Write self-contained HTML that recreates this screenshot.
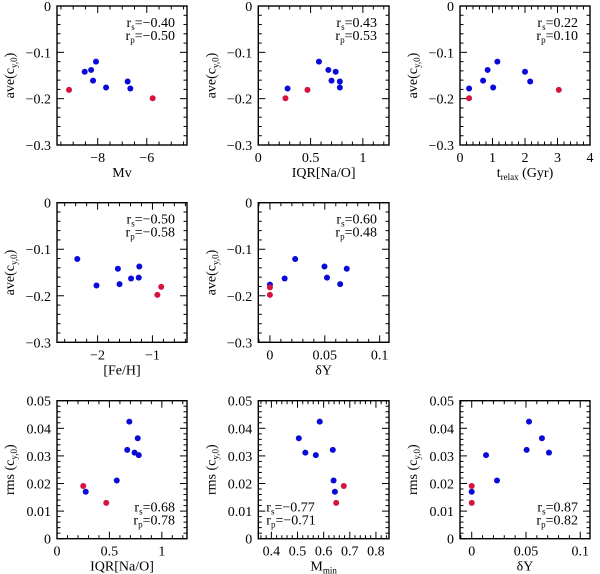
<!DOCTYPE html>
<html><head><meta charset="utf-8"><style>
html,body{margin:0;padding:0;background:#fff;}
svg{display:block;font-family:"Liberation Serif",serif;}
</style></head><body>
<svg id="fig" width="600" height="574" viewBox="0 0 600 574"></svg>
<script>
// ---- data ----
const aveMvBlue=[-8.53,-8.27,-8.07,-8.19,-7.66,-6.78,-6.67];
const aveBlueMv=[-0.142,-0.138,-0.120,-0.161,-0.176,-0.163,-0.178];
const aveMvRed=[-9.17,-5.76];
const aveRedMv=[-0.181,-0.199];
const aveIqrBlue=[0.28,0.58,0.67,0.74,0.70,0.78,0.78];
const aveBlueIqr=[-0.178,-0.120,-0.138,-0.142,-0.161,-0.163,-0.176];
const aveIqrRed=[0.26,0.47];
const aveRedIqr=[-0.199,-0.181];
const aveTrBlue=[0.28,0.71,0.85,1.02,1.15,2.0,2.16];
const aveBlueTr=[-0.178,-0.161,-0.138,-0.176,-0.120,-0.142,-0.163];
const aveTrRed=[0.28,3.04];
const aveRedTr=[-0.199,-0.181];
const aveFeBlue=[-2.37,-2.02,-1.63,-1.60,-1.39,-1.25,-1.24];
const aveBlueFe=[-0.121,-0.178,-0.142,-0.175,-0.163,-0.161,-0.137];
const aveFeRed=[-0.91,-0.84];
const aveRedFe=[-0.198,-0.181];
const aveDyBlue=[0,0.0134,0.023,0.0497,0.052,0.064,0.070];
const aveBlueDy=[-0.176,-0.163,-0.121,-0.137,-0.161,-0.175,-0.142];
const aveDyRed=[0,0];
const aveRedDy=[-0.182,-0.198];
const rmsIqrBlue=[0.274,0.57,0.67,0.69,0.74,0.78,0.77];
const rmsBlueIqr=[0.0170,0.0211,0.0322,0.0424,0.0312,0.0303,0.0364];
const rmsIqrRed=[0.25,0.47];
const rmsRedIqr=[0.0191,0.0130];
const rmsMmBlue=[0.505,0.53,0.57,0.585,0.635,0.638,0.643];
const rmsBlueMm=[0.0364,0.0312,0.0303,0.0424,0.0322,0.0211,0.0170];
const rmsMmRed=[0.677,0.648];
const rmsRedMm=[0.0191,0.0130];
const rmsDyBlue=[0,0.0132,0.0233,0.0506,0.0528,0.0647,0.0712];
const rmsBlueDy=[0.0170,0.0303,0.0211,0.0322,0.0424,0.0364,0.0312];
const rmsDyRed=[0,0];
const rmsRedDy=[0.0191,0.0130];
const aveTicks=["0","−0.1","−0.2","−0.3"];
const rmsTicks=["0","0.01","0.02","0.03","0.04","0.05"];

const NS="http://www.w3.org/2000/svg";
const svg=document.getElementById('fig');
function mk(tag,attrs,parent){const e=document.createElementNS(NS,tag);for(const k in attrs)e.setAttribute(k,attrs[k]);(parent||svg).appendChild(e);return e;}
function fmt(v){let s=(Math.abs(v)<1e-9?0:v).toString();return s.replace('-','−');}

function panel(o){
  const g=mk('g',{});
  
  
  const L=o.x0,R=o.x1,T=o.y0,B=o.y1;
  const sx=v=>L+(v-o.xr[0])/(o.xr[1]-o.xr[0])*(R-L);
  const sy=v=>B-(v-o.yr[0])/(o.yr[1]-o.yr[0])*(B-T);
  const frame=mk('rect',{x:L,y:T,width:R-L,height:B-T,fill:'none',stroke:'#000','stroke-width':1.4},g);
  
  
  const xs=Math.ceil((o.xr[0]-1e-9)/o.xmin);
  for(let i=xs;i*o.xmin<=o.xr[1]+1e-9;i++){
    const v=i*o.xmin;const X=sx(v);
    const maj=Math.abs(v/o.xmaj-Math.round(v/o.xmaj))<1e-6;
    const len=maj?7:3.5;
    mk('line',{x1:X,y1:B,x2:X,y2:B-len,stroke:'#000','stroke-width':1},g);
    mk('line',{x1:X,y1:T,x2:X,y2:T+len,stroke:'#000','stroke-width':1},g);
    if(maj&&o.xlab.some(l=>Math.abs(l-v)<1e-6)){
      const t=mk('text',{x:X,y:B+17,'font-size':14,'text-anchor':'middle'},g);t.textContent=fmt(+v.toFixed(4));
      
      
    }
  }
  const ys=Math.ceil((o.yr[0]-1e-9)/o.ymin);
  for(let i=ys;i*o.ymin<=o.yr[1]+1e-9;i++){
    const v=i*o.ymin;const Y=sy(v);
    const maj=Math.abs(v/o.ymaj-Math.round(v/o.ymaj))<1e-6;
    const len=maj?7:3.5;
    mk('line',{x1:L,y1:Y,x2:L+len,y2:Y,stroke:'#000','stroke-width':1},g);
    mk('line',{x1:R,y1:Y,x2:R-len,y2:Y,stroke:'#000','stroke-width':1},g);
    if(maj){
      const idx=Math.round(Math.abs(v)/o.ymaj);
      const t=mk('text',{x:L-6,y:Y+5,'font-size':14,'text-anchor':'end'},g);t.textContent=o.ytl[idx];
      
      
    }
  }
  const xt=mk('text',{x:(L+R)/2,y:B+32,'font-size':14,'text-anchor':'middle'},g);
  xt.innerHTML=o.xtitle;
  
  
  const cy=(T+B)/2;
  const yt=mk('text',{x:0,y:0,'font-size':14,'text-anchor':'middle',transform:`translate(${L-43},${cy}) rotate(-90)`},g);
  yt.innerHTML=o.ytitle;
  
  
  for(let i=0;i<o.bx.length;i++){
    const c=mk('circle',{cx:sx(o.bx[i]),cy:sy(o.by[i]),r:3,fill:'#0a0ad8'},g);
    
    
  }
  for(let i=0;i<o.rx.length;i++){
    const c=mk('circle',{cx:sx(o.rx[i]),cy:sy(o.ry[i]),r:3,fill:'#d4143c'},g);
    
    
  }
  const ax=o.annLeft?L+8:R-12, anc=o.annLeft?'start':'end';
  const ay=o.annBottom?B-27:T+21;
  const a1=mk('text',{x:ax,y:ay,'font-size':14,'text-anchor':anc},g);
  a1.innerHTML=`r<tspan font-size="9" dy="3">s</tspan><tspan dy="-3">=${o.rs}</tspan>`;
  
  
  const a2=mk('text',{x:ax,y:ay+13,'font-size':14,'text-anchor':anc},g);
  a2.innerHTML=`r<tspan font-size="9" dy="3">p</tspan><tspan dy="-3">=${o.rp}</tspan>`;
  
  
}
const aveT='ave(c<tspan font-size="9" dy="3">y,0</tspan><tspan dy="-3">)</tspan>';
const rmsT='rms (c<tspan font-size="9" dy="3">y,0</tspan><tspan dy="-3">)</tspan>';
const C=[[57,187],[258.3,389],[460,590]];
const Rw=[[6,145],[202.7,342.3],[400.7,538.7]];
const aveY={yr:[-0.3,0],ymaj:0.1,ymin:0.02,ytl:aveTicks,ytitle:aveT};
const rmsY={yr:[0,0.05],ymaj:0.01,ymin:0.002,ytl:rmsTicks,ytitle:rmsT};
panel(Object.assign({name:'panel-mv',x0:C[0][0],x1:C[0][1],y0:Rw[0][0],y1:Rw[0][1],xr:[-9.66,-4.36],xmaj:2,xmin:0.5,xlab:[-8,-6],xtitle:'Mv',bx:aveMvBlue,by:aveBlueMv,rx:aveMvRed,ry:aveRedMv,rs:'−0.40',rp:'−0.50'},aveY));
panel(Object.assign({name:'panel-iqr-ave',x0:C[1][0],x1:C[1][1],y0:Rw[0][0],y1:Rw[0][1],xr:[0,1.25],xmaj:0.5,xmin:0.1,xlab:[0,0.5,1],xtitle:'IQR[Na/O]',bx:aveIqrBlue,by:aveBlueIqr,rx:aveIqrRed,ry:aveRedIqr,rs:'0.43',rp:'0.53'},aveY));
panel(Object.assign({name:'panel-trelax',x0:C[2][0],x1:C[2][1],y0:Rw[0][0],y1:Rw[0][1],xr:[0,4],xmaj:1,xmin:0.2,xlab:[0,1,2,3,4],xtitle:'t<tspan font-size="9" dy="3">relax</tspan><tspan dy="-3">  (Gyr)</tspan>',bx:aveTrBlue,by:aveBlueTr,rx:aveTrRed,ry:aveRedTr,rs:'0.22',rp:'0.10'},aveY));
panel(Object.assign({name:'panel-feh',x0:C[0][0],x1:C[0][1],y0:Rw[1][0],y1:Rw[1][1],xr:[-2.74,-0.37],xmaj:1,xmin:0.2,xlab:[-2,-1],xtitle:'[Fe/H]',bx:aveFeBlue,by:aveBlueFe,rx:aveFeRed,ry:aveRedFe,rs:'−0.50',rp:'−0.58'},aveY));
panel(Object.assign({name:'panel-dy-ave',x0:C[1][0],x1:C[1][1],y0:Rw[1][0],y1:Rw[1][1],xr:[-0.0106,0.1085],xmaj:0.05,xmin:0.01,xlab:[0,0.05,0.1],xtitle:'δY',bx:aveDyBlue,by:aveBlueDy,rx:aveDyRed,ry:aveRedDy,rs:'0.60',rp:'0.48'},aveY));
panel(Object.assign({name:'panel-iqr-rms',x0:C[0][0],x1:C[0][1],y0:Rw[2][0],y1:Rw[2][1],xr:[0,1.24],xmaj:0.5,xmin:0.1,xlab:[0,0.5,1],xtitle:'IQR[Na/O]',bx:rmsIqrBlue,by:rmsBlueIqr,rx:rmsIqrRed,ry:rmsRedIqr,rs:'0.68',rp:'0.78',annBottom:true},rmsY));
panel(Object.assign({name:'panel-mmin',x0:C[1][0],x1:C[1][1],y0:Rw[2][0],y1:Rw[2][1],xr:[0.35,0.85],xmaj:0.1,xmin:0.02,xlab:[0.4,0.5,0.6,0.7,0.8],xtitle:'M<tspan font-size="9" dy="3">min</tspan>',bx:rmsMmBlue,by:rmsBlueMm,rx:rmsMmRed,ry:rmsRedMm,rs:'−0.77',rp:'−0.71',annBottom:true,annLeft:true},rmsY));
panel(Object.assign({name:'panel-dy-rms',x0:C[2][0],x1:C[2][1],y0:Rw[2][0],y1:Rw[2][1],xr:[-0.0108,0.109],xmaj:0.05,xmin:0.01,xlab:[0,0.05,0.1],xtitle:'δY',bx:rmsDyBlue,by:rmsBlueDy,rx:rmsDyRed,ry:rmsRedDy,rs:'0.87',rp:'0.82',annBottom:true},rmsY));
</script>
</body></html>
